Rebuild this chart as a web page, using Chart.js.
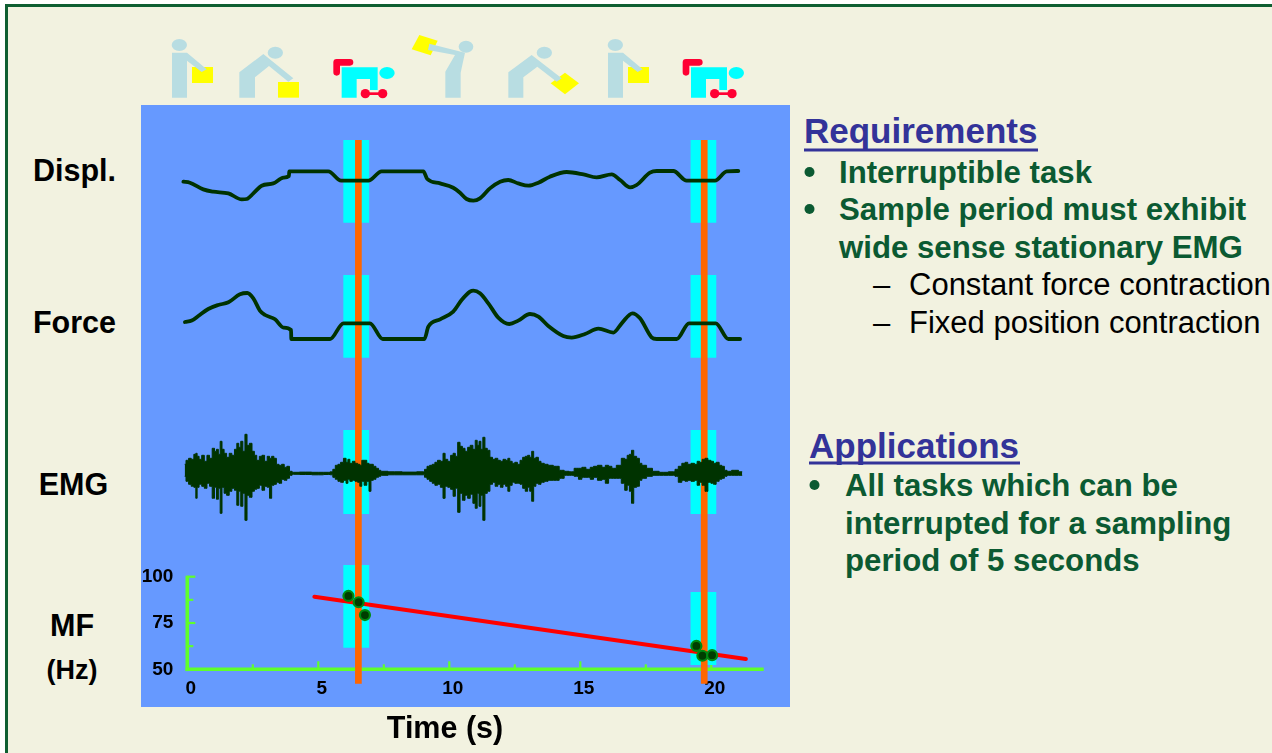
<!DOCTYPE html>
<html><head><meta charset="utf-8"><title>EMG sampling</title>
<style>
html,body{margin:0;padding:0;width:1272px;height:753px;overflow:hidden;background:#fff}
#frame{position:absolute;left:5px;top:4px;width:1267px;height:749px;box-sizing:border-box;border-left:3px solid #0f5f32;border-top:3px solid #0f5f32;background:#f2f2e0}
svg,#wrap{position:absolute;left:0;top:0;width:1272px;height:753px}
svg text{font-family:"Liberation Sans",Arial,sans-serif}
.lab{font-weight:700;font-size:30.5px;fill:#000;text-anchor:middle}
.h{font-weight:700;font-size:35px;fill:#333399}
.b{font-weight:700;font-size:31.2px;fill:#0b5a32}
.r{font-size:31px;fill:#000}
</style>
<script src="https://cdn.jsdelivr.net/npm/chart.js@4/dist/chart.umd.min.js"></script>
</head><body>
<div id="frame"></div>
<svg viewBox="0 0 1272 753">
 <rect x="141" y="105" width="649" height="602" fill="#6699ff"/>
 <g transform="translate(140,30) scale(.33333)">
  <rect x="156" y="111" width="63" height="48" fill="#ffff00"/>
  <g fill="#b8dde2"><ellipse cx="118" cy="45" rx="23" ry="18"/><path d="M96 68H141L200 118L185 126L141 92V203H96Z"/></g>
  <rect x="414" y="156" width="63" height="47" fill="#ffff00"/>
  <g fill="#b8dde2"><ellipse cx="406" cy="68" rx="23" ry="18"/><path d="M298 127L370 72L460 145L445 155L387 108L345 142V203H298Z"/></g>
  <g>
   <path d="M605 112H713V180H690V147H650V203H605Z" fill="#00ffff"/><ellipse cx="741" cy="129" rx="23" ry="18" fill="#00ffff"/>
   <path d="M590 127V97H630" fill="none" stroke="#ff0033" stroke-width="20" stroke-linecap="round" stroke-linejoin="round"/>
   <circle cx="676" cy="191" r="14" fill="#ff0033"/><circle cx="728" cy="191" r="14" fill="#ff0033"/><rect x="676" y="187" width="52" height="8" fill="#ff0033"/>
  </g>
  <path d="M838 15L893 32L872 76L815 58Z" fill="#ffff00"/>
  <g fill="#b8dde2"><path d="M868 41L975 68L962 128V203H916V125L945 75L864 60Z"/><ellipse cx="978" cy="50" rx="22" ry="18"/></g>
 </g>
 <g transform="translate(460,30) scale(.33333)">
  <path d="M315 128L357 160L315 193L272 160Z" fill="#ffff00"/>
  <g fill="#b8dde2"><ellipse cx="253" cy="68" rx="23" ry="18"/><path d="M145 127L215 75L305 145L290 155L232 110L190 142V203H145Z"/></g>
  <rect x="504" y="111" width="63" height="48" fill="#ffff00"/>
  <g fill="#b8dde2"><ellipse cx="466" cy="45" rx="23" ry="18"/><path d="M444 68H489L548 118L533 126L489 92V203H444Z"/></g>
 </g>
 <g transform="translate(140,30) scale(.33333) translate(1048,0)">
   <path d="M605 112H713V180H690V147H650V203H605Z" fill="#00ffff"/><ellipse cx="741" cy="129" rx="23" ry="18" fill="#00ffff"/>
   <path d="M590 127V97H630" fill="none" stroke="#ff0033" stroke-width="20" stroke-linecap="round" stroke-linejoin="round"/>
   <circle cx="676" cy="191" r="14" fill="#ff0033"/><circle cx="728" cy="191" r="14" fill="#ff0033"/><rect x="676" y="187" width="52" height="8" fill="#ff0033"/>
 </g>
 <text class="lab" x="74.5" y="181">Displ.</text>
 <text class="lab" x="74.5" y="333">Force</text>
 <text class="lab" x="73.5" y="495">EMG</text>
 <text class="lab" x="72" y="636">MF</text>
 <text class="lab" x="72" y="679" style="font-size:27px">(Hz)</text>
 <text class="h" x="804" y="143">Requirements</text><rect x="804" y="148.5" width="234" height="3" fill="#333399"/>
 <circle cx="809.5" cy="172" r="5" fill="#0b5a32"/><text class="b" x="839" y="183">Interruptible task</text>
 <circle cx="809.5" cy="209" r="5" fill="#0b5a32"/><text class="b" x="839" y="220">Sample period must exhibit</text>
 <text class="b" x="839" y="257.5">wide sense stationary EMG</text>
 <text class="r" x="873" y="295">–</text><text class="r" x="909" y="295">Constant force contraction</text>
 <text class="r" x="873" y="332.5">–</text><text class="r" x="909" y="332.5">Fixed position contraction</text>
 <text class="h" x="809" y="458">Applications</text><rect x="809" y="461.5" width="211" height="3" fill="#333399"/>
 <circle cx="814.5" cy="485" r="5" fill="#0b5a32"/><text class="b" x="845" y="496">All tasks which can be</text>
 <text class="b" x="845" y="533.5">interrupted for a sampling</text>
 <text class="b" x="845" y="571">period of 5 seconds</text>
</svg>
<div id="wrap"><canvas id="c" width="1272" height="753"></canvas></div>
<script>
// Displacement trace: time (s), offset from the hold level
const displTimes=[-0.15,0.10,0.61,0.99,1.57,2.08,2.27,2.52,2.84,3.28,3.67,3.88,3.89,5.38,5.87,6.91,7.42,9.01,9.16,9.65,10.15,10.41,10.66,10.92,11.17,11.55,11.94,12.25,12.63,13.02,13.40,13.84,14.48,15.12,15.62,16.20,16.52,16.90,17.15,17.66,17.92,18.55,19.06,20.14,20.59,21.03];
const displValues=[-1,-2,-8.7,-11,-12.7,-18.7,-18.3,-12.7,-5,-2.7,3,4.7,9.3,9.3,0,0,9.3,9.3,1.7,-2.7,-7,-12,-18.3,-20,-17.7,-7.7,-1,0.7,-2.7,-5,-2,4,8.7,6.3,3.3,6.3,0.7,-6.7,-4.3,8,9.7,9.7,0,0,9.3,9.7];
// Force trace: time (s), offset from the hold level
const forceTimes=[-0.09,0.17,0.42,0.80,1.18,1.57,2.01,2.29,2.52,2.77,2.97,3.35,3.67,3.96,3.97,5.45,5.96,6.97,7.46,9.05,9.20,9.65,10.15,10.47,10.79,10.92,11.17,11.49,11.87,12.29,12.63,13.08,13.40,13.78,14.35,14.67,15.18,15.69,16.26,16.58,16.99,17.28,17.72,17.92,18.68,19.15,20.17,20.65,21.10];
const forceValues=[1.3,2.7,7.3,14.3,18.3,21,29,30.3,25,12.7,8.3,4,-4.3,-6.7,-15.7,-15.7,0,0,-15.7,-15.7,-3.3,4,11.7,23.3,31.7,32.7,30,20,5.7,-0.7,2.7,9.3,6.7,-2.7,-12.7,-14.3,-10.7,-5.3,-9.3,0,10,5,-14,-15.7,-15.7,0,0,-15.7,-15.7];
// EMG envelope: time (s), upper and lower excursion
const emgTimes=[-0.1,0,0.1,0.2,0.3,0.35,0.4,0.5,0.6,0.7,0.8,0.9,1,1.08,1.15,1.22,1.29,1.36,1.45,1.55,1.65,1.75,1.85,1.93,2,2.08,2.16,2.24,2.32,2.42,2.52,2.6,2.7,2.8,2.9,3,3.1,3.18,3.26,3.35,3.45,3.55,3.65,3.75,3.85,3.95,
 4.05,4.5,5,5.4,5.51,
 5.6,5.7,5.8,5.9,6.02,6.1,6.16,6.25,6.35,6.45,6.55,6.62,6.7,6.8,6.9,6.97,7.05,7.15,7.25,7.35,
 7.42,7.9,8.5,9.01,
 9.1,9.2,9.3,9.4,9.5,9.6,9.72,9.8,9.88,10,10.1,10.19,10.27,10.37,10.45,10.55,10.65,10.75,10.85,10.95,11.03,11.1,11.17,11.24,11.32,11.4,11.5,11.6,11.7,11.8,11.9,12,12.1,12.2,12.27,12.35,12.45,12.55,12.65,12.75,12.85,12.95,13.03,13.11,13.18,13.26,13.35,13.45,13.55,
 13.7,13.84,14.1,14.29,14.48,14.67,14.86,15,15.12,15.31,15.45,15.56,15.75,15.9,16.01,16.15,16.26,16.49,16.64,16.75,16.83,16.92,16.99,17.09,17.21,17.3,17.4,17.66,17.85,18.17,18.55,18.68,
 18.8,18.95,19.05,19.15,19.3,19.42,19.5,19.6,19.7,19.82,19.92,20.05,20.12,20.25,20.35,20.45,20.55,20.65,20.9,21.18];
const emgUpper=[9,13,15,14,19,20,17,14,18,12,18,15,25,22,24,19,32,24,20,16,20,18,24,30,26,32,22,39,28,30,22,18,13,17,18,12,17,15,17,15,9,8,9,6,7,2,
 1,1.2,1,1,1.5,
 4,8,9,11,15,11,14,10,12,10,9,8,13,13,10,9,9,7,5,3,
 2,1.5,1.2,1.5,
 4,7,8,9,11,13,12,20,14,12,18,20,17,31,27,25,22,26,28,24,33,28,32,24,36,25,23,16,14,15,13,12,14,13,15,12,10,11,9,13,16,17,18,16,22,15,16,12,10,
 9,8,7,3,2,1.5,5,5,6,4,6,7,8,6,8,7,5,8,15,14,18,19,23,17,15,10,8,5,2,1,1.5,4,
 7,10,11,9,10,9,12,11,14,15,13,12,10,11,8,7,3,2,3,1.5];
const emgLower=[-3,-8,-11,-13,-14,-25,-14,-11,-13,-15,-10,-13,-25,-14,-26,-15,-40,-14,-20,-22,-18,-15,-17,-32,-18,-33,-20,-47,-22,-24,-18,-16,-15,-12,-17,-13,-14,-25,-12,-11,-9,-10,-6,-7,-5,-2,
 -1,-1.2,-1.5,-1.2,-1.5,
 -4,-6,-8,-9,-7,-10,-6,-8,-7,-8,-9,-13,-8,-12,-8,-18,-7,-6,-4,-3,
 -2,-1.5,-1.5,-1.5,
 -4,-6,-8,-10,-12,-11,-14,-25,-13,-14,-16,-23,-15,-39,-20,-27,-22,-25,-21,-30,-35,-20,-33,-22,-47,-20,-18,-11,-9,-13,-11,-14,-11,-13,-18,-12,-9,-10,-10,-11,-15,-18,-14,-18,-28,-13,-10,-11,-9,
 -8,-7,-7,-5,-2,-2,-3,-6,-4,-4,-6,-4,-7,-6,-10,-5,-5,-5,-10,-17,-12,-18,-30,-14,-13,-7,-5,-3,-2,-2,-2,-3,
 -9,-7,-8,-7,-8,-7,-12,-9,-12,-18,-9,-10,-11,-8,-6,-5,-3,-2,-2,-2];
// Median frequency: time (s), Hz, and regression line
const mfTimes=[6.15,6.54,6.78,19.43,19.66,20.03];
const mfValues=[89.6,86.2,79.3,62.6,57.3,57.6];
const fitTimes=[4.85,21.32];
const fitValues=[89.2,55.6];
// Sampling windows and markers (time, s)
const windowStarts=[5.95,19.20];
const windowEnds=[6.95,20.20];
const markerTimes=[6.53,19.73];
const markerSpanHz=[335.8,42.2];
const rowWindow={yDispl:[40.7,-42],yForce:[48.3,-34.4],yEmg:[43.3,-40.7]};
const mfWindows=[[106.3,61.7],[91.7,52.3]];
// Axis ticks
const xMajorTicks=[0,5,10,15,20];
const xMinorTicks=[2.5,7.5,12.5,17.5];
const xMarkedTicks=[5,10,15,20];
const yMajorTicks=[50,75,100];
const yMinorTicks=[62.5,87.5];
const xAxisEnd=22;

const zip=(a,b)=>a.map((x,i)=>({x,y:b[i]}));
const cyan='#00ffff',dark='#003300',green='#5fff2b';
const datasets=[];
const band=(s,e,top,bot,axis)=>datasets.push({data:[{x:s,y:top},{x:e,y:top}],yAxisID:axis,borderWidth:0,borderColor:cyan,backgroundColor:cyan,pointRadius:0,fill:{value:bot},order:9});
for(const axis in rowWindow){windowStarts.forEach((s,i)=>band(s,windowEnds[i],rowWindow[axis][0],rowWindow[axis][1],axis));}
windowStarts.forEach((s,i)=>band(s,windowEnds[i],mfWindows[i][0],mfWindows[i][1],'yMF'));
markerTimes.forEach(t=>datasets.push({data:[{x:t,y:markerSpanHz[0]},{x:t,y:markerSpanHz[1]}],yAxisID:'yMF',borderColor:'#ff6600',borderWidth:6.7,pointRadius:0,borderCapStyle:'butt',order:8}));
const trace=(label,x,y,axis)=>datasets.push({label,data:zip(x,y),yAxisID:axis,borderColor:dark,borderWidth:3.8,pointRadius:0,borderJoinStyle:'round',borderCapStyle:'round',order:5,cubicInterpolationMode:'monotone'});
trace('Displ.',displTimes,displValues,'yDispl');
trace('Force',forceTimes,forceValues,'yForce');
datasets.push({label:'EMG upper',data:zip(emgTimes,emgUpper),yAxisID:'yEmg',stepped:'middle',borderColor:dark,backgroundColor:dark,borderWidth:1,pointRadius:0,fill:'+1',order:4});
datasets.push({label:'EMG lower',data:zip(emgTimes,emgLower),yAxisID:'yEmg',stepped:'middle',borderColor:dark,borderWidth:1,pointRadius:0,fill:false,order:4});
datasets.push({label:'Fit',data:zip(fitTimes,fitValues),yAxisID:'yMF',borderColor:'#ff0000',borderWidth:4,pointRadius:0,borderCapStyle:'round',order:3});
datasets.push({label:'MF',data:zip(mfTimes,mfValues),yAxisID:'yMF',showLine:false,pointRadius:5,pointBorderWidth:2.2,pointBackgroundColor:'#003d00',pointBorderColor:'#008a10',order:2});

const axesPlugin={id:'greenAxes',beforeDatasetsDraw(ch){
  const c=ch.ctx,x=ch.scales.x,y=ch.scales.yMF,x0=x.getPixelForValue(0),y50=y.getPixelForValue(50);
  c.save();c.strokeStyle=green;c.lineCap='butt';
  const seg=(a,b,p,q,w)=>{c.lineWidth=w;c.beginPath();c.moveTo(a,b);c.lineTo(p,q);c.stroke();};
  xMarkedTicks.forEach(v=>seg(x.getPixelForValue(v),y50,x.getPixelForValue(v),y50-8,2.2));
  xMinorTicks.forEach(v=>seg(x.getPixelForValue(v),y50,x.getPixelForValue(v),y50-5,2.2));
  yMajorTicks.forEach(v=>seg(x0,y.getPixelForValue(v),x0+8,y.getPixelForValue(v),2.2));
  yMinorTicks.forEach(v=>seg(x0,y.getPixelForValue(v),x0+6,y.getPixelForValue(v),2.2));
  seg(x0,y.getPixelForValue(100)-1,x0,y50+1.8,3.6);
  seg(x0-1.8,y50,x.getPixelForValue(xAxisEnd),y50,3.6);
  c.restore();
}};
const hidden=(min,max)=>({type:'linear',min,max,display:false});
const tickFont={family:'"Liberation Sans"',size:19,weight:'700'};
new Chart(document.getElementById('c'),{type:'line',plugins:[axesPlugin],data:{datasets},options:{
  responsive:false,animation:false,parsing:{xAxisKey:'x',yAxisKey:'y'},
  layout:{padding:{left:100,right:482,top:105,bottom:46}},
  plugins:{legend:{display:false},tooltip:{enabled:false}},
  scales:{
    x:{type:'linear',min:-3.332,max:23.004,position:{yMF:50},border:{display:false},grid:{display:false,drawTicks:false},
       afterBuildTicks(s){s.ticks=xMajorTicks.map(value=>({value}));},
       ticks:{autoSkip:false,maxRotation:0,color:'#000',font:tickFont,padding:8,labelOffset:3.5},
       title:{display:true,text:'Time (s)',color:'#000',font:{family:'"Liberation Sans"',size:30.5,weight:'700'},padding:{top:3,bottom:0}}},
    yDispl:hidden(-526.3,75.7),
    yForce:hidden(-383.7,218.3),
    yEmg:hidden(-233.7,368.3),
    yMF:{type:'linear',min:29.64,max:354.7,position:{x:-0.53},border:{display:false},grid:{display:false,drawTicks:false},
       afterBuildTicks(s){s.ticks=yMajorTicks.map(value=>({value}));},
       ticks:{autoSkip:false,color:'#000',font:tickFont}}
  }}});
</script>
</body></html>
